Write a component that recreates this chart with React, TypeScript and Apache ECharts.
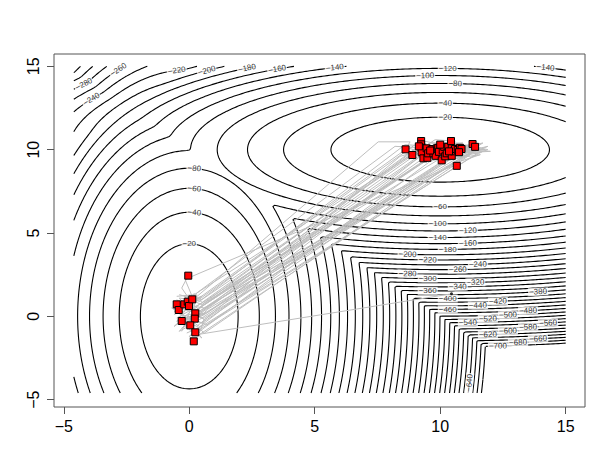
import React, { useEffect, useRef } from "react";
import * as echarts from "echarts";

// ---- axes ----
const X_MIN = -5.39, X_MAX = 15.77, Y_MIN = -5.44, Y_MAX = 15.74;
const xTicks = [-5, 0, 5, 10, 15];
const yTicks = [-5, 0, 5, 10, 15];

// ---- underlying surface: log of a two-component normal mixture ----
const mixWeights = [0.5, 0.5];
const mixMeans = [[0, 0], [10, 10]];
const mixVars = [[0.1, 0.5], [0.5, 0.1]];
const missingBelow = -712;
const surfaceXRange = [-4.6, 15.0];
const surfaceYRange = [-4.6, 15.0];
const contourLevels = [-20, -40, -60, -80, -100, -120, -140, -160, -180, -200, -220, -240, -260, -280, -300, -320, -340, -360, -380, -400, -420, -440, -460, -480, -500, -520, -540, -560, -580, -600, -620, -640, -660, -680, -700];

// contour label spots: [level, x, y]
const labelSpots: [number, number, number][] = [
  [-280, -4.22, 13.98], [-260, -2.84, 14.73], [-240, -3.86, 13.02], [-220, -0.5, 14.67],
  [-200, 0.74, 14.67], [-180, 2.29, 14.82], [-160, 3.51, 14.82], [-140, 5.8, 14.88],
  [-80, 0.16, 8.78], [-60, 0.16, 7.53], [-40, 0.16, 6.08], [-20, 0.0, 4.14],
  [-120, 10.26, 14.82], [-100, 9.43, 14.41], [-80, 10.55, 13.92], [-40, 10.16, 12.74],
  [-20, 10.15, 11.88], [-140, 14.24, 14.88], [-60, 9.99, 6.54], [-100, 9.86, 5.52],
  [-120, 11.12, 5.08], [-140, 9.88, 4.7], [-160, 11.12, 4.34], [-180, 10.26, 3.94],
  [-200, 8.67, 3.68], [-220, 9.49, 3.32], [-240, 11.45, 3.12], [-260, 10.72, 2.74],
  [-280, 8.67, 2.54], [-300, 9.49, 2.18], [-320, 11.45, 2.02], [-340, 10.72, 1.72],
  [-360, 9.49, 1.48], [-380, 13.91, 1.42], [-400, 10.32, 0.98], [-420, 12.31, 0.84],
  [-440, 11.52, 0.58], [-460, 10.32, 0.38], [-480, 13.55, 0.32], [-500, 12.75, -0.02],
  [-520, 11.92, -0.18], [-540, 11.12, -0.42], [-560, 14.31, -0.42], [-580, 13.55, -0.68],
  [-600, 12.75, -0.92], [-620, 11.92, -1.16], [-640, 11.19, -4.02], [-660, 13.91, -1.38],
  [-680, 13.11, -1.62], [-700, 12.27, -1.82],
];

// ---- chains (gray paths) ----
const chainsToMode2: [number, number][][] = [
  [[-0.5, 0.7], [0.0, 0.8], [7.53, 10.47], [8.8, 10.47], [8.62, 10.02]],
  [[-0.3, -0.2], [0.3, -0.6], [8.4, 9.6], [9.1, 9.9], [8.89, 9.68]],
  [[0.1, 1.1], [0.4, 0.9], [8.6, 10.3], [9.6, 10.2], [9.24, 10.52]],
  [[-0.6, 0.5], [0.5, 0.3], [8.9, 9.9], [9.9, 10.1], [9.24, 10.32]],
  [[0.2, -0.9], [0.6, -0.4], [9.3, 9.7], [10.2, 10.0], [9.26, 10.11]],
  [[-0.4, 1.3], [0.3, 1.0], [8.7, 10.1], [9.7, 9.7], [9.26, 9.84]],
  [[0.0, -1.2], [0.5, -0.8], [9.6, 9.3], [10.1, 9.5], [9.33, 9.48]],
  [[-0.2, 0.4], [0.6, 0.1], [9.8, 10.0], [10.6, 10.2], [9.46, 10.08]],
  [[0.3, -0.3], [0.7, -0.5], [10.2, 9.3], [11.0, 9.6], [9.49, 9.51]],
  [[-0.5, -0.1], [0.2, 0.5], [9.1, 10.0], [10.4, 9.8], [9.52, 9.78]],
  [[0.1, 0.2], [0.5, 0.6], [9.9, 10.4], [11.2, 10.1], [9.69, 10.04]],
  [[-0.3, -0.7], [0.4, -0.2], [10.4, 9.5], [11.5, 9.8], [9.73, 9.78]],
  [[0.2, 1.4], [0.1, 0.7], [9.0, 10.3], [10.0, 9.7], [9.82, 9.63]],
  [[-0.6, 0.9], [0.3, 0.4], [9.5, 10.2], [11.8, 10.0], [9.86, 10.08]],
  [[0.4, -1.0], [0.6, -0.2], [10.8, 9.8], [12.0, 9.9], [9.92, 10.11]],
  [[-0.1, -0.4], [0.2, 0.0], [9.7, 9.6], [10.9, 9.9], [9.95, 9.87]],
  [[0.5, 0.0], [0.7, 0.4], [10.6, 9.2], [11.6, 9.7], [10.06, 9.36]],
  [[-0.4, 0.2], [0.4, 0.7], [10.3, 10.2], [11.3, 10.3], [10.1, 9.95]],
  [[0.0, 1.2], [0.5, 1.0], [9.6, 10.4], [10.9, 10.4], [10.16, 10.17]],
  [[0.3, -0.6], [0.6, -1.0], [10.9, 9.6], [11.9, 10.2], [10.2, 9.6]],
  [[-0.2, 0.9], [0.2, 0.3], [10.0, 9.9], [9.2, 10.3], [10.26, 9.78]],
  [[0.1, -0.1], [0.5, -0.4], [11.0, 10.2], [10.2, 9.8], [10.32, 10.17]],
  [[-0.5, 1.2], [0.2, 1.3], [9.8, 10.6], [10.6, 10.5], [10.43, 10.52]],
  [[0.4, 0.5], [0.6, 0.8], [10.9, 10.3], [9.8, 10.2], [10.46, 10.08]],
  [[0.0, -0.8], [0.4, -1.1], [11.2, 9.7], [10.0, 9.5], [10.46, 9.63]],
  [[-0.3, 0.0], [0.3, 0.2], [10.1, 10.1], [11.4, 9.9], [10.55, 9.9]],
  [[0.2, 0.6], [0.6, 0.5], [11.4, 10.0], [10.3, 10.3], [10.59, 10.04]],
  [[-0.1, -1.0], [0.5, -0.6], [11.1, 9.4], [11.7, 9.9], [10.7, 9.98]],
  [[0.3, 1.1], [0.1, 0.2], [10.5, 10.4], [11.2, 10.2], [10.79, 10.11]],
  [[-0.4, -0.3], [0.4, 0.0], [11.6, 10.1], [10.4, 9.9], [10.85, 10.04]],
  [[0.2, 0.9], [-0.17, 2.22], [10.6, 9.08], [10.66, 9.03]],
  [[0.0, 0.5], [0.4, 0.3], [11.7, 10.4], [11.0, 10.2], [11.29, 10.34]],
  [[-0.2, -0.5], [0.3, -0.9], [11.5, 9.8], [11.9, 10.0], [11.39, 10.17]],
  [[0.2, 0.9], [0.5, 0.7], [9.4, 10.5], [10.4, 10.2], [10.0, 10.3]],
  [[-0.6, 0.3], [0.1, -0.2], [9.2, 9.6], [8.9, 10.0], [9.6, 9.95]],
  [[0.4, 0.1], [0.7, 0.2], [10.8, 10.0], [9.9, 9.9], [10.35, 9.9]],
  [[-0.1, 0.0], [0.6, -0.1], [11.3, 9.9], [10.2, 10.1], [10.75, 9.85]],
  [[0.1, 1.0], [0.3, 1.4], [8.2, 10.2], [9.4, 10.1], [9.15, 10.2]],
];
const chainsToMode1: [number, number][][] = [
  [[0.2, 0.6], [-0.3, 1.7], [-0.04, 2.44]],
  [[0.3, 0.4], [-0.65, 0.9], [-0.5, 0.72]],
  [[0.4, -0.6], [-0.7, 0.5], [-0.42, 0.38]],
  [[0.5, 0.9], [-0.4, 1.1], [-0.2, 0.72]],
  [[-0.3, -0.9], [0.3, 1.3], [-0.06, 0.88]],
  [[0.6, 0.2], [-0.5, -0.3], [-0.01, 0.62]],
  [[-0.6, 0.1], [0.5, 1.2], [0.12, 1.02]],
  [[0.2, 0.5], [-0.6, -0.6], [-0.3, -0.28]],
  [[-0.5, 1.0], [0.6, -0.2], [0.24, 0.18]],
  [[-0.2, 1.2], [0.6, 0.1], [0.22, -0.14]],
  [[0.5, 0.6], [-0.4, -0.9], [0.04, -0.54]],
  [[-0.4, 0.4], [0.5, -1.3], [0.24, -0.96]],
  [[0.6, -0.4], [0.0, -1.2], [0.18, -1.5]],
  [[0.3, -1.1], [10.45, 1.35]],
];
const strayPoint: [number, number][] = [[10.45, 1.35]];

const redMode2: [number, number][] = [
  [8.62, 10.02], [8.89, 9.68], [9.24, 10.52], [9.24, 10.32], [9.26, 10.11], [9.26, 9.84],
  [9.33, 9.48], [9.46, 10.08], [9.49, 9.51], [9.52, 9.78], [9.69, 10.04], [9.73, 9.78],
  [9.82, 9.63], [9.86, 10.08], [9.92, 10.11], [9.95, 9.87], [10.06, 9.36], [10.1, 9.95],
  [10.16, 10.17], [10.2, 9.6], [10.26, 9.78], [10.32, 10.17], [10.43, 10.52], [10.46, 10.08],
  [10.46, 9.63], [10.55, 9.9], [10.59, 10.04], [10.7, 9.98], [10.79, 10.11], [10.85, 10.04],
  [10.66, 9.03], [11.29, 10.34], [11.39, 10.17], [10.0, 10.3], [9.6, 9.95], [10.35, 9.9],
  [10.75, 9.85], [9.15, 10.2],
];
const redMode1: [number, number][] = [
  [-0.04, 2.44], [-0.5, 0.72], [-0.42, 0.38], [-0.2, 0.72], [-0.06, 0.88], [-0.01, 0.62],
  [0.12, 1.02], [-0.3, -0.28], [0.24, 0.18], [0.22, -0.14], [0.04, -0.54], [0.24, -0.96],
  [0.18, -1.5],
];

// ---- contour computation (marching squares) ----
function surface(x: number, y: number): number {
  const terms = mixWeights.map((w, k) => {
    const vx = mixVars[k][0], vy = mixVars[k][1];
    return Math.log(w) - Math.log(2 * Math.PI * Math.sqrt(vx * vy)) -
      (x - mixMeans[k][0]) ** 2 / (2 * vx) - (y - mixMeans[k][1]) ** 2 / (2 * vy);
  });
  const m = Math.max(...terms);
  const v = m + Math.log(terms.reduce((s, t) => s + Math.exp(t - m), 0));
  return v < missingBelow ? NaN : v;
}

function buildContours() {
  const step = 0.1;
  const x0 = surfaceXRange[0], y0 = surfaceYRange[0];
  const nx = Math.round((surfaceXRange[1] - x0) / step) + 1;
  const ny = Math.round((surfaceYRange[1] - y0) / step) + 1;
  const xs: number[] = [], ys: number[] = [];
  for (let i = 0; i < nx; i++) xs.push(x0 + i * step);
  for (let j = 0; j < ny; j++) ys.push(y0 + j * step);
  const F = new Float64Array(nx * ny);
  for (let j = 0; j < ny; j++) for (let i = 0; i < nx; i++) F[j * nx + i] = surface(xs[i], ys[j]);
  const out: { level: number; poly: number[][] }[] = [];
  for (const L of contourLevels) {
    const segs: number[][] = [];
    const pt = new Map<number, number[]>();
    const getPt = (id: number): number[] => {
      let p = pt.get(id);
      if (p) return p;
      const base = id >> 1;
      const i = base % nx, j = Math.floor(base / nx);
      const a = F[j * nx + i];
      if ((id & 1) === 0) {
        const b = F[j * nx + i + 1];
        const t = (L - a) / (b - a);
        p = [xs[i] + t * step, ys[j]];
      } else {
        const b = F[(j + 1) * nx + i];
        const t = (L - a) / (b - a);
        p = [xs[i], ys[j] + t * step];
      }
      pt.set(id, p);
      return p;
    };
    for (let j = 0; j < ny - 1; j++) {
      for (let i = 0; i < nx - 1; i++) {
        const v00 = F[j * nx + i], v10 = F[j * nx + i + 1];
        const v01 = F[(j + 1) * nx + i], v11 = F[(j + 1) * nx + i + 1];
        if (isNaN(v00) || isNaN(v10) || isNaN(v01) || isNaN(v11)) continue;
        const c = (v00 > L ? 1 : 0) | (v10 > L ? 2 : 0) | (v11 > L ? 4 : 0) | (v01 > L ? 8 : 0);
        if (c === 0 || c === 15) continue;
        const B = (j * nx + i) * 2, T = ((j + 1) * nx + i) * 2;
        const Lf = (j * nx + i) * 2 + 1, R = (j * nx + i + 1) * 2 + 1;
        const center = (v00 + v10 + v01 + v11) / 4 > L;
        switch (c) {
          case 1: case 14: segs.push([B, Lf]); break;
          case 2: case 13: segs.push([B, R]); break;
          case 3: case 12: segs.push([R, Lf]); break;
          case 4: case 11: segs.push([R, T]); break;
          case 6: case 9: segs.push([B, T]); break;
          case 7: case 8: segs.push([T, Lf]); break;
          case 5:
            if (center) { segs.push([B, R]); segs.push([T, Lf]); }
            else { segs.push([B, Lf]); segs.push([R, T]); }
            break;
          case 10:
            if (center) { segs.push([B, Lf]); segs.push([R, T]); }
            else { segs.push([B, R]); segs.push([T, Lf]); }
            break;
        }
      }
    }
    const adj = new Map<number, number[]>();
    segs.forEach((s, k) => {
      for (const e of s) { const a = adj.get(e); if (a) a.push(k); else adj.set(e, [k]); }
    });
    const used = new Uint8Array(segs.length);
    for (let k = 0; k < segs.length; k++) {
      if (used[k]) continue;
      used[k] = 1;
      const fwd = [segs[k][0], segs[k][1]];
      let cur = segs[k][1];
      for (;;) {
        const nb = (adj.get(cur) || []).find((s) => !used[s]);
        if (nb === undefined) break;
        used[nb] = 1;
        const nxt = segs[nb][0] === cur ? segs[nb][1] : segs[nb][0];
        fwd.push(nxt); cur = nxt;
      }
      const back: number[] = [];
      cur = segs[k][0];
      for (;;) {
        const nb = (adj.get(cur) || []).find((s) => !used[s]);
        if (nb === undefined) break;
        used[nb] = 1;
        const nxt = segs[nb][0] === cur ? segs[nb][1] : segs[nb][0];
        back.push(nxt); cur = nxt;
      }
      const chain = back.reverse().concat(fwd);
      out.push({ level: L, poly: chain.map(getPt) });
    }
  }
  return out;
}

const minus = (v: number) => (v < 0 ? "\u2212" + Math.abs(v) : String(v));

export default function App() {
  const ref = useRef<HTMLDivElement>(null);
  useEffect(() => {
    if (!ref.current) return;
    const chart = echarts.init(ref.current, undefined, { renderer: "svg" });
    const W = 613, H = 474;
    const gl = 54, gt = 54, gr = 28, gb = 67;
    const kx = (W - gl - gr) / (X_MAX - X_MIN);
    const ky = (H - gt - gb) / (Y_MAX - Y_MIN);
    const contours = buildContours();

    const labelData = labelSpots.map(([lev, lx, ly]) => {
      let best = { d: Infinity, poly: [] as number[][], idx: 0 };
      for (const c of contours) {
        if (c.level !== lev) continue;
        c.poly.forEach((p, idx) => {
          const d = ((p[0] - lx) * kx) ** 2 + ((p[1] - ly) * ky) ** 2;
          if (d < best.d) best = { d, poly: c.poly, idx };
        });
      }
      const poly = best.poly;
      if (!poly.length) return { value: [lx, ly], label: { formatter: minus(lev), rotate: 0 } };
      const p0 = poly[Math.max(best.idx - 3, 0)], p1 = poly[Math.min(best.idx + 3, poly.length - 1)];
      let ang = (Math.atan2((p1[1] - p0[1]) * ky, (p1[0] - p0[0]) * kx) * 180) / Math.PI;
      if (ang > 90) ang -= 180;
      if (ang < -90) ang += 180;
      return { value: poly[best.idx], label: { formatter: minus(lev), rotate: Math.round(ang) } };
    });

    const axisFont = "Liberation Sans, Arial, sans-serif";
    chart.setOption({
      animation: false,
      grid: { left: gl, top: gt, right: gr, bottom: gb, show: true, borderColor: "#555", borderWidth: 1, backgroundColor: "#fff" },
      xAxis: {
        type: "value", min: X_MIN, max: X_MAX,
        splitLine: { show: false },
        axisLine: { show: false, onZero: false },
        axisTick: { show: true, inside: false, length: 7, customValues: xTicks, lineStyle: { color: "#555" } },
        axisLabel: { customValues: xTicks, formatter: (v: number) => minus(v), margin: 11, fontSize: 16, color: "#000", fontFamily: axisFont },
      },
      yAxis: {
        type: "value", min: Y_MIN, max: Y_MAX,
        splitLine: { show: false },
        axisLine: { show: false, onZero: false },
        axisTick: { show: true, inside: false, length: 7, customValues: yTicks, lineStyle: { color: "#555" } },
        axisLabel: { customValues: yTicks, rotate: 90, formatter: (v: number) => minus(v), margin: 13, fontSize: 16, color: "#000", fontFamily: axisFont },
      },
      series: [
        {
          type: "lines", coordinateSystem: "cartesian2d", polyline: true, silent: true, z: 1,
          lineStyle: { color: "#000", width: 1.1, opacity: 1 },
          data: contours.map((c) => ({ coords: c.poly })),
        },
        {
          type: "scatter", z: 2, silent: true, symbolSize: 1, itemStyle: { color: "rgba(0,0,0,0)" },
          label: { show: true, position: "inside", fontSize: 8, color: "#000", backgroundColor: "#fff", padding: [0, 1], fontFamily: axisFont },
          labelLayout: { hideOverlap: false },
          data: labelData,
        },
        {
          type: "lines", coordinateSystem: "cartesian2d", polyline: true, silent: true, z: 3,
          lineStyle: { color: "#bebebe", width: 1, opacity: 1 },
          data: chainsToMode2.concat(chainsToMode1).map((p) => ({ coords: p })),
        },
        {
          type: "scatter", z: 4, silent: true, symbol: "circle", symbolSize: 3,
          itemStyle: { color: "#000" }, data: strayPoint,
        },
        {
          type: "scatter", z: 5, silent: true, symbol: "rect", symbolSize: 7,
          itemStyle: { color: "#ff0000", borderColor: "#000", borderWidth: 1, opacity: 1 },
          data: redMode2.concat(redMode1),
        },
      ],
    });
    return () => chart.dispose();
  }, []);
  return <div ref={ref} style={{ width: 613, height: 474, position: "absolute", left: 0, top: 0 }} />;
}
